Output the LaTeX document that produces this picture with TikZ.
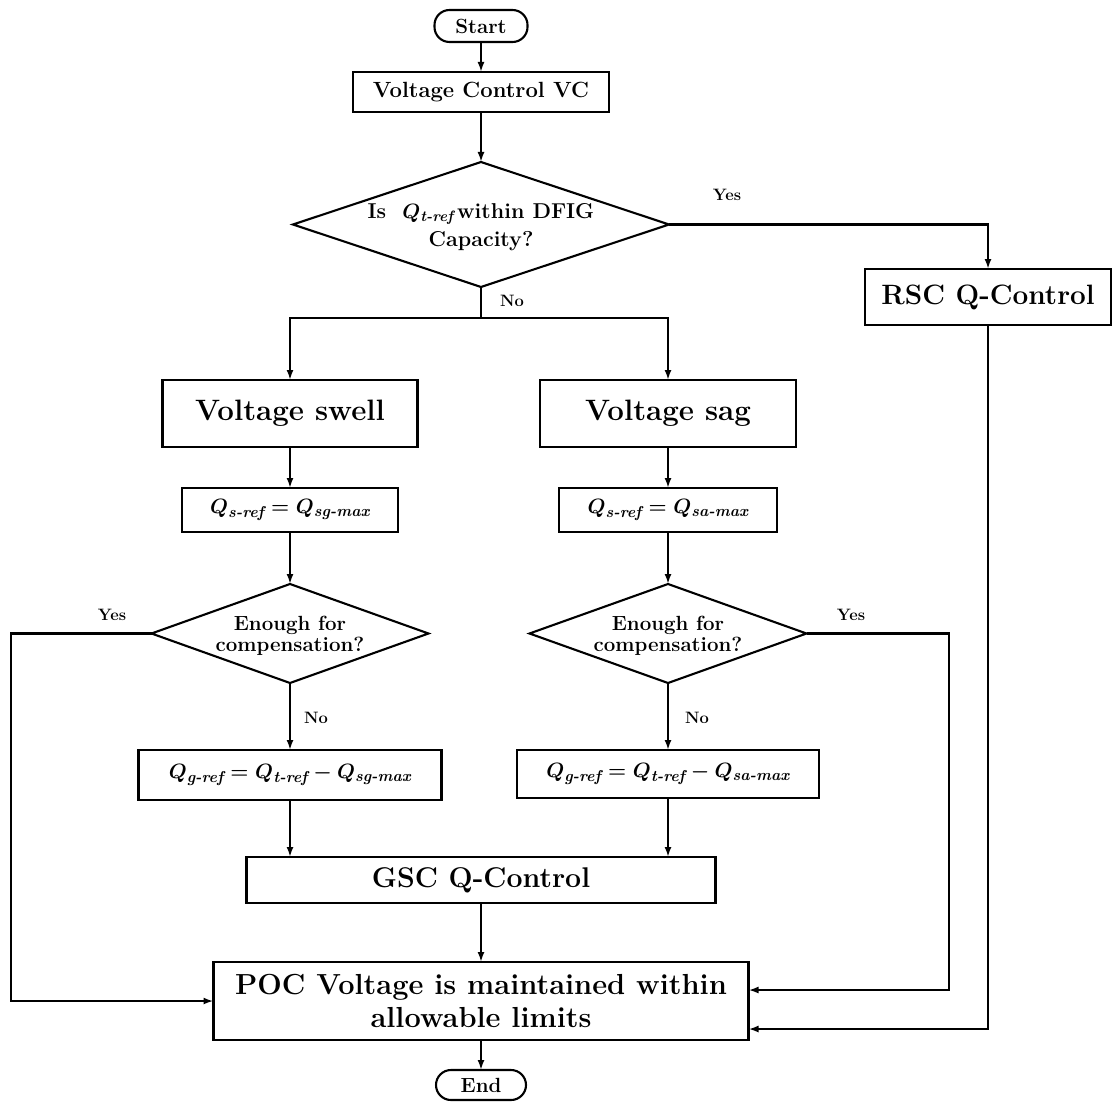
\documentclass[tikz,border=0pt]{standalone}
\usepackage{amsmath}
\usetikzlibrary{shapes.geometric,arrows.meta,calc}
\newcommand\fsz[2]{\fontsize{#1}{#2}\selectfont}
\tikzset{
  base/.style={draw, line width=2.1pt, inner sep=0pt, outer sep=0pt, font=\bfseries},
  box/.style={base, rectangle},
  term/.style={base, rectangle, rounded corners=15pt},
  dia/.style={base, diamond},
  arr/.style={line width=2.1pt, -{Latex[length=10pt,width=7pt]}},
  ln/.style={line width=2.1pt},
  lab/.style={font=\bfseries\fsz{16.5}{19}},
  mth/.style={font=\bfseries\boldmath\fsz{22.5}{26}},
}
\begin{document}
\begin{tikzpicture}[x=1pt,y=-1pt]
\useasboundingbox (0,0) rectangle (1113,1102);
% nodes
\node[term, minimum width=93pt, minimum height=32pt, font=\bfseries\fsz{20.5}{24}] (start) at (481,26) {Start};
\node[box, minimum width=256pt, minimum height=40pt, font=\bfseries\fsz{22}{26}] (vc) at (481,92) {Voltage Control VC};
\node[dia, minimum width=376pt, minimum height=125pt] (d1) at (481,224.5) {};
\node[font=\bfseries\boldmath\fsz{21.5}{28}, align=center] (d1t) at (481,227) {Is\ \ $Q_{\textit{t-ref}}$\,within DFIG\\Capacity?};
\node[box, minimum width=246pt, minimum height=56pt, font=\bfseries\fsz{28}{32}] (rsc) at (988,297) {RSC Q-Control};
\node[box, minimum width=255pt, minimum height=67pt, font=\bfseries\fsz{29.5}{34}] (swell) at (290,413.5) {Voltage swell};
\node[box, minimum width=256pt, minimum height=67pt, font=\bfseries\fsz{29.5}{34}] (sag) at (668,413.5) {Voltage sag};
\node[box, mth, minimum width=216pt, minimum height=44pt] (qs1) at (290,510) {$Q_{\textit{s-ref}} = Q_{\textit{sg-max}}$};
\node[box, mth, minimum width=218pt, minimum height=44pt] (qs2) at (668,510) {$Q_{\textit{s-ref}} = Q_{\textit{sa-max}}$};
\node[dia, minimum width=277pt, minimum height=99pt] (d2) at (290,633.5) {};
\node[font=\bfseries\fsz{20.5}{21}, align=center] (d2t) at (290,636) {Enough for\\compensation?};
\node[dia, minimum width=277pt, minimum height=99pt] (d3) at (668,633.5) {};
\node[font=\bfseries\fsz{20.5}{21}, align=center] (d3t) at (668,636) {Enough for\\compensation?};
\node[box, mth, minimum width=303pt, minimum height=50pt] (qg1) at (290,775) {$Q_{\textit{g-ref}} = Q_{\textit{t-ref}} - Q_{\textit{sg-max}}$};
\node[box, mth, minimum width=302pt, minimum height=48pt] (qg2) at (668,774) {$Q_{\textit{g-ref}} = Q_{\textit{t-ref}} - Q_{\textit{sa-max}}$};
\node[box, minimum width=469pt, minimum height=46pt, font=\bfseries\fsz{28.5}{32}] (gsc) at (481,880) {GSC Q-Control};
\node[box, minimum width=535pt, minimum height=78pt, font=\bfseries\fsz{29}{33}, align=center] (poc) at (481,1001) {POC Voltage is maintained within\\allowable limits};
\node[term, minimum width=90pt, minimum height=30pt, font=\bfseries\fsz{20.5}{24}] (end) at (481,1085) {End};
% labels
\node[lab] (ly1) at (727,195) {Yes};
\node[lab] (ln1) at (512,301) {No};
\node[lab] (ly2) at (112,615) {Yes};
\node[lab] (ly3) at (851,615) {Yes};
\node[lab] (ln2) at (316,718) {No};
\node[lab] (ln3) at (697,718) {No};
% connectors
\draw[arr] (start) -- (vc);
\draw[arr] (vc) -- (d1);
\draw[arr] (d1.east) -| (rsc.north);
\draw[ln] (d1.south) -- ++(0,31) coordinate (split);
\draw[arr] (split) -| (swell.north);
\draw[arr] (split) -| (sag.north);
\draw[arr] (swell) -- (qs1);
\draw[arr] (sag) -- (qs2);
\draw[arr] (qs1) -- (d2);
\draw[arr] (qs2) -- (d3);
\draw[arr] (d2) -- (qg1);
\draw[arr] (d3) -- (qg2);
\draw[arr] (qg1.south) -- (qg1.south |- gsc.north);
\draw[arr] (qg2.south) -- (qg2.south |- gsc.north);
\draw[arr] (gsc) -- (poc);
\draw[arr] (poc) -- (end);
\coordinate (lft) at (11,633.5);
\draw[arr] (d2.west) -- (lft) |- (poc.west);
\coordinate (rgt) at (949,633.5);
\draw[arr] (d3.east) -- (rgt) |- ($(poc.east)+(0,-11)$);
\draw[arr] (rsc.south) |- ($(poc.east)+(0,28)$);
\end{tikzpicture}
\end{document}
